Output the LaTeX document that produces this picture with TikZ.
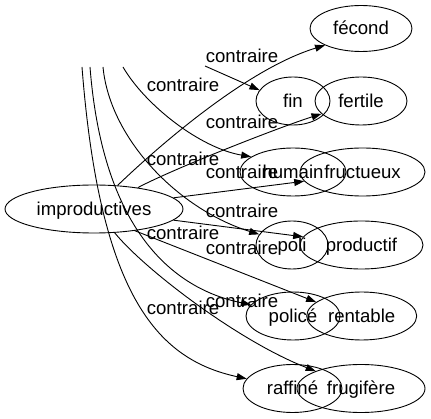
\documentclass[tikz,border=0pt]{standalone}
\usepackage{fontspec}
\usepackage{tikz}
\usetikzlibrary{shapes.geometric,arrows.meta}
\newfontfamily\lsans{Liberation Sans}
\newcommand{\motfont}{\lsans\fontsize{18.6pt}{20pt}\selectfont}
\tikzset{
  mot/.style={ellipse,draw=black,line width=0.9pt,inner sep=0pt,
    minimum height=48pt,font=\motfont,text height=13pt,text depth=0pt},
  lien/.style={-{Triangle[length=10pt,width=7pt]},line width=0.9pt,black},
  etiq/.style={font=\motfont,inner sep=0pt,anchor=base},
}
\begin{document}
\begin{tikzpicture}[x=1pt,y=-1pt]
  \useasboundingbox (0,0) rectangle (431,419);
  % noeuds
  \node[mot,minimum width=178pt] (improductives) at (94,209) {improductives};
  \node[mot,minimum width=102pt,minimum height=46pt] (fecond) at (361,28.5) {fécond};
  \node[mot,minimum width=74pt] (fin) at (293,101) {fin};
  \node[mot,minimum width=92pt] (fertile) at (361,101) {fertile};
  \node[mot,minimum width=106pt] (humain) at (293,172) {humain};
  \node[mot,minimum width=125pt] (fructueux) at (362.5,172) {fructueux};
  \node[mot,minimum width=72pt] (poli) at (292,245) {poli};
  \node[mot,minimum width=123pt] (productif) at (361.5,245) {productif};
  \node[mot,minimum width=94pt] (police) at (293,316) {policé};
  \node[mot,minimum width=110pt] (rentable) at (361.7,316) {rentable};
  \node[mot,minimum width=99pt] (raffine) at (292.5,388.5) {raffiné};
  \node[mot,minimum width=128pt] (frugifere) at (361,388.5) {frugifère};
  % bouts coupes en haut
  \coordinate (hfin) at (205,66);
  \coordinate (hhumain) at (123,67);
  \coordinate (hpoli) at (103,67);
  \coordinate (hpolice) at (90,67);
  \coordinate (hraffine) at (82,67);
  % liens
  \draw[lien] (improductives.45) .. controls (165,140) and (250,68) .. (fecond.205);
  \draw[lien] (hfin) -- (fin.162);
  \draw[lien] (improductives.26) .. controls (175,168) and (280,127) .. (fertile.198);
  \draw[lien] (hhumain) .. controls (145,105) and (200,148) .. (humain.160);
  \draw[lien] (improductives.8) -- (fructueux.189);
  \draw[lien] (hpoli) .. controls (110,140) and (180,210) .. (poli.162);
  \draw[lien] (improductives.-8) -- (productif.172);
  \draw[lien] (hpolice) .. controls (102,220) and (165,287) .. (police.165);
  \draw[lien] (improductives.-28) -- (rentable.163);
  \draw[lien] (hraffine) .. controls (100,300) and (160,360) .. (raffine.168);
  \draw[lien] (improductives.-49) .. controls (145,270) and (240,342) .. (frugifere.159);
  % etiquettes
  \node[etiq] (e1) at (242,63) {contraire};
  \node[etiq] (e2) at (183,92) {contraire};
  \node[etiq] (e3) at (242,129) {contraire};
  \node[etiq] (e4) at (183,166) {contraire};
  \node[etiq] (e5) at (242,179) {contraire};
  \node[etiq] (e6) at (242,218) {contraire};
  \node[etiq] (e7) at (183,240) {contraire};
  \node[etiq] (e8) at (242,255) {contraire};
  \node[etiq] (e9) at (242,308) {contraire};
  \node[etiq] (e10) at (183,315) {contraire};
\end{tikzpicture}
\end{document}
